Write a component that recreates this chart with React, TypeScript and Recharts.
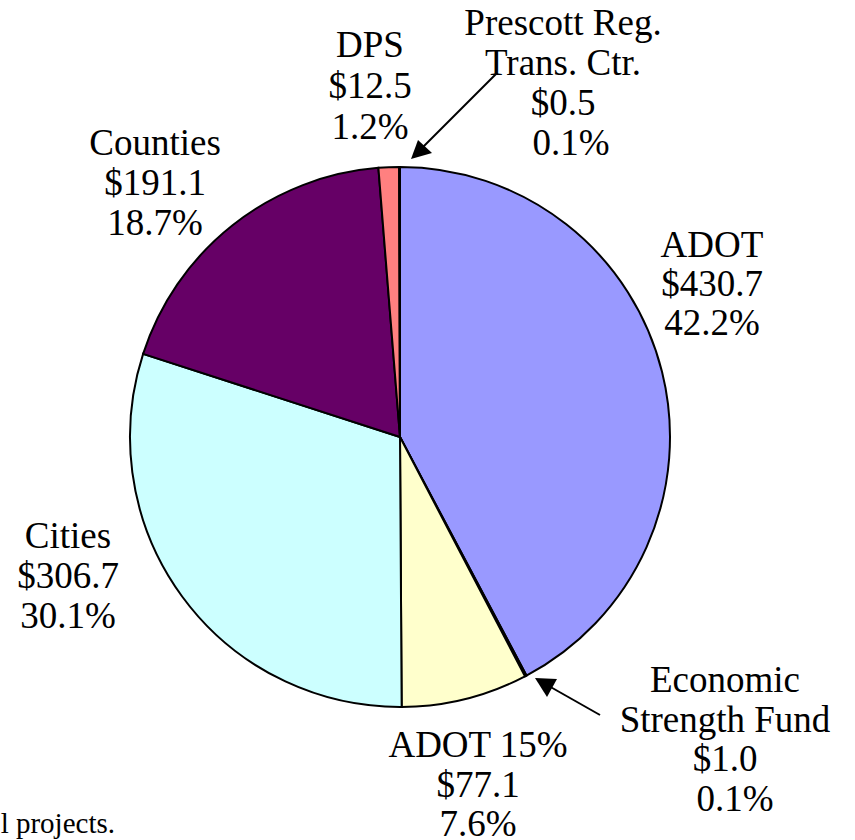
import React from 'react';
import { PieChart, Pie, Cell } from 'recharts';

// Budget distribution ($ millions)
const names = ['ADOT', 'Economic Strength Fund', 'ADOT 15%', 'Cities', 'Counties', 'DPS', 'Prescott Reg. Trans. Ctr.'];
const amounts = [430.7, 1.0, 77.1, 306.7, 191.1, 12.5, 0.5];
const shares = ['42.2%', '0.1%', '7.6%', '30.1%', '18.7%', '1.2%', '0.1%'];
const nameLines = [['ADOT'], ['Economic', 'Strength Fund'], ['ADOT 15%'], ['Cities'], ['Counties'], ['DPS'], ['Prescott Reg.', 'Trans. Ctr.']];
const colors = ['#9999FF', '#0066CC', '#FFFFCC', '#CCFFFF', '#660066', '#FF8080', '#CCCCFF'];
const footnote = 'l projects.';

const data = names.map((name, i) => ({ name, value: amounts[i] }));

// label placement (center x, first baseline, line step, dx for last line)
const labelPos = [
  { x: 712, y: 257, step: 39, dx: 0 },
  { x: 725, y: 692, step: 39.5, dx: 10 },
  { x: 478, y: 757, step: 39.5, dx: 0 },
  { x: 68, y: 548, step: 40, dx: 0 },
  { x: 155, y: 155, step: 40, dx: 0 },
  { x: 370, y: 57, step: 41, dx: 0 },
  { x: 563, y: 35, step: 40, dx: 8 },
];

const FONT = '"Liberation Serif", "Times New Roman", serif';

const renderLabel = (props: any) => {
  const i = props.index;
  const p = labelPos[i];
  const lines = [...nameLines[i], `$${amounts[i].toFixed(1)}`, shares[i]];
  return (
    <text key={`lbl-${i}`} x={p.x} y={p.y} textAnchor="middle" fontFamily={FONT} fontSize={37} fill="#000">
      {lines.map((l, k) => (
        <tspan key={k} x={p.x + (k === lines.length - 1 ? p.dx : 0)} y={p.y + k * p.step}>
          {l}
        </tspan>
      ))}
    </text>
  );
};

export default function App() {
  return (
    <div style={{ position: 'relative', width: 855, height: 840, overflow: 'hidden', background: '#fff' }}>
      <style>{`body{margin:0}`}</style>
      <PieChart width={855} height={840} margin={{ top: 0, right: 0, bottom: 0, left: 0 }} style={{ position: 'absolute', left: 0, top: 0 }}>
        <Pie
          data={data}
          dataKey="value"
          cx={400}
          cy={437}
          outerRadius={270}
          startAngle={90}
          endAngle={-270}
          label={renderLabel}
          labelLine={false}
          isAnimationActive={false}
        >
          {data.map((d, i) => (
            <Cell key={d.name} fill={colors[i]} stroke="#000" strokeWidth={2} />
          ))}
        </Pie>
      </PieChart>
      <svg width={855} height={840} style={{ position: 'absolute', left: 0, top: 0, pointerEvents: 'none' }}>
        <line x1={497} y1={73} x2={414} y2={156} stroke="#000" strokeWidth={2} />
        <path d="M411,159 L418,140 L432,153 z" fill="#000" />
        <line x1={600} y1={715} x2={540} y2={681} stroke="#000" strokeWidth={2} />
        <path d="M535,678 L557,679 L547,697 z" fill="#000" />
        <text x={115} y={833} textAnchor="end" fontFamily={FONT} fontSize={29} fill="#000">
          {footnote}
        </text>
      </svg>
    </div>
  );
}
